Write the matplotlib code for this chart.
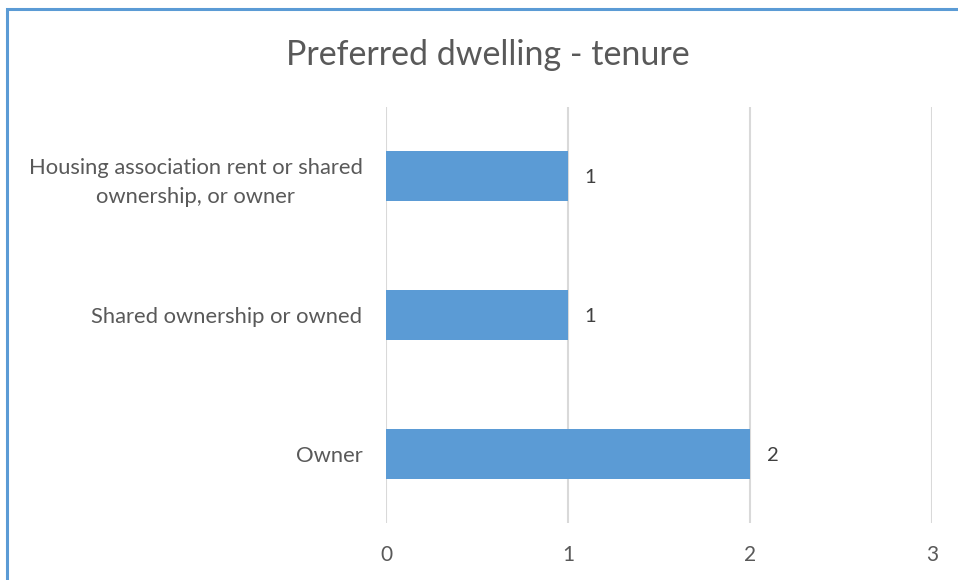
import matplotlib.pyplot as plt
from matplotlib.patches import Rectangle

# Chart data
categories = ['Owner', 'Shared ownership or owned',
              'Housing association rent or shared\nownership, or owner']
values = [2, 1, 1]
ticks = [0, 1, 2, 3]

plt.rcParams['font.family'] = ['Lato', 'DejaVu Sans']

fig = plt.figure(figsize=(9.58, 5.8), dpi=100)
W, H = 958, 580
ax = fig.add_axes([386 / W, 1 - 523 / H, (932 - 386) / W, (523 - 107) / H])

bars = ax.barh(range(len(categories)), values, height=0.36, color='#5B9BD5', zorder=3)
for b, v in zip(bars, values):
    ax.annotate(str(v), (b.get_width(), b.get_y() + b.get_height() / 2),
                xytext=(12, -1), textcoords='offset points', va='center', ha='left',
                fontsize=14.5, color='#404040')

ax.set_xlim(0, 3)
ax.set_ylim(-0.5, len(categories) - 0.5)
ax.set_xticks(ticks)
ax.set_yticks(range(len(categories)))
ax.set_yticklabels(categories, fontsize=15.8, color='#595959', linespacing=1.55,
                   multialignment='center')
ax.set_xticklabels([str(t) for t in ticks], fontsize=15, color='#595959')
ax.tick_params(length=0)
ax.tick_params(axis='x', pad=16)
ax.tick_params(axis='y', pad=17)
ax.grid(axis='x', color='#D9D9D9', linewidth=1.5, zorder=0)
for s in ax.spines.values():
    s.set_visible(False)

fig.text(488 / W, 1 - 55 / H, 'Preferred dwelling - tenure', ha='center', va='center',
         fontsize=24.5, color='#595959')

# blue chart-area border (right and bottom edges fall outside the crop)
fig.patches.append(Rectangle((7 / W, -0.1), 1.2, 1 - 9 / H + 0.1, transform=fig.transFigure,
                             fill=False, edgecolor='#5B9BD5', linewidth=2.2))

fig.savefig('out.png', dpi=100)
